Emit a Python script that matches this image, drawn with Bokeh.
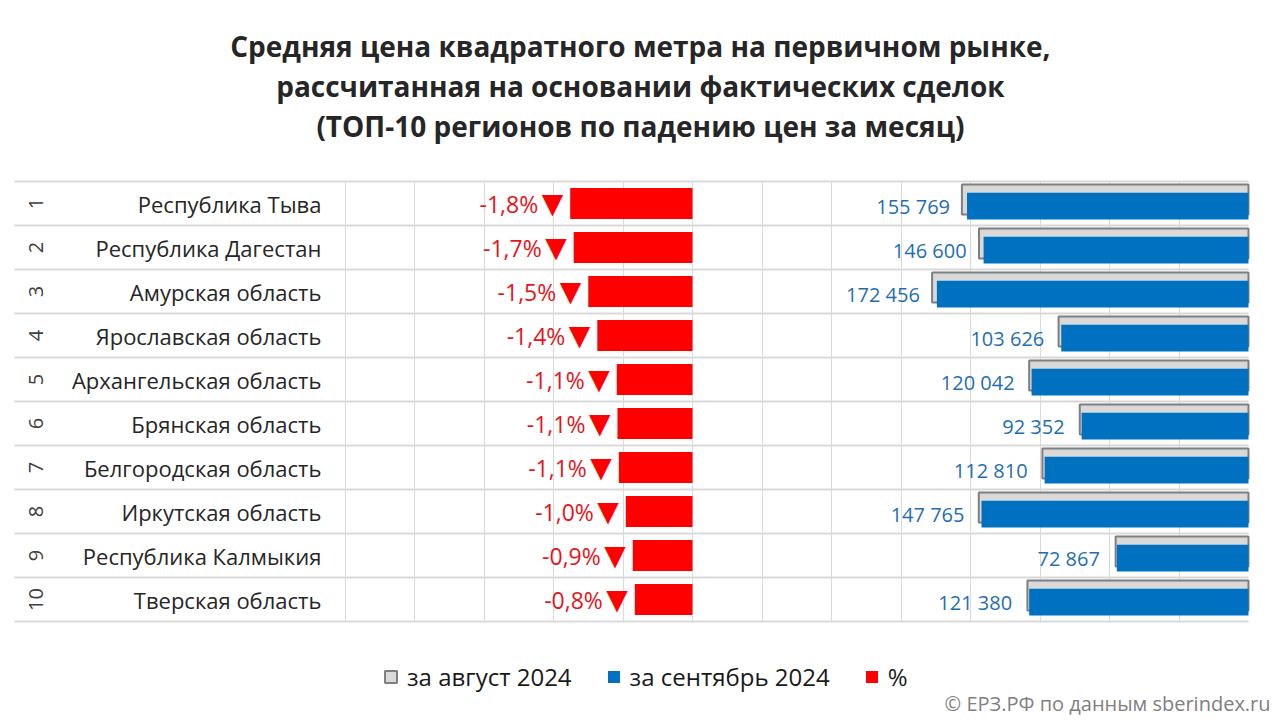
from bokeh.plotting import figure
from bokeh.models import (Range1d, FixedTicker, Legend, LegendItem,
                          ColumnDataSource)
from bokeh.transform import dodge
from bokeh.core.properties import value
from bokeh.embed import file_html
from bokeh.resources import INLINE
import math

# ---------------- data ----------------
ranks = [1, 2, 3, 4, 5, 6, 7, 8, 9, 10]
regions = [
    "Республика Тыва",
    "Республика Дагестан",
    "Амурская область",
    "Ярославская область",
    "Архангельская область",
    "Брянская область",
    "Белгородская область",
    "Иркутская область",
    "Республика Калмыкия",
    "Тверская область",
]
pct_change = [-1.76, -1.71, -1.50, -1.37, -1.09, -1.08, -1.06, -0.96, -0.86, -0.83]
price_aug = [158600, 149150, 175100, 105100, 121380, 93380, 114060, 149260, 73530, 122360]
price_sep = [155769, 146600, 172456, 103626, 120042, 92352, 112810, 147765, 72867, 121380]

title_lines = [
    "Средняя цена квадратного метра на первичном рынке,",
    "рассчитанная на основании фактических сделок",
    "(ТОП-10 регионов по падению цен за месяц)",
]
legend_labels = ["за август 2024", "за сентябрь 2024", "%"]
source_note = "© ЕРЗ.РФ по данным sberindex.ru"

# ---------------- layout / styling ----------------
FONT = "Open Sans"
RED = "#FF0000"
BLUE = "#0070C0"
GREY_FILL = "#D9D9D9"
GREY_LINE = "#7F7F7F"
GRID = "#D9D9D9"

# row units vertically (1 row = 44 px), percent units horizontally (1 % = 69.5 px)
TITLE_Y = [-2.59, -1.68, -0.77]
TITLE_X = -0.75
NOTE_X, NOTE_Y = 8.317, 12.36
RANK_X, NAME_X = -9.45, -5.34

pct_labels = [("%.1f" % v).replace(".", ",") + "%" for v in pct_change]
price_labels = ["{:,}".format(v).replace(",", " ") for v in price_sep]

src = ColumnDataSource(dict(
    rank=ranks,
    rank_str=[str(r) for r in ranks],
    region=regions,
    pct=pct_change,
    aug=price_aug,
    sep=price_sep,
    pct_label=pct_labels,
    arrow=["\u25BC"] * len(ranks),
    price_label=price_labels,
))

p = figure(frame_width=1272, frame_height=720,
           x_range=Range1d(-9.957, 8.345), y_range=Range1d(12.75, -3.614),
           output_backend="svg", toolbar_location=None,
           x_axis_location=None, y_axis_location=None,
           min_border_left=0, min_border_right=0,
           min_border_top=0, min_border_bottom=0)
p.title = None
p.extra_x_ranges = {"price": Range1d(690648, -13282)}
p.outline_line_color = None

# table cell borders
p.xgrid.ticker = FixedTicker(ticks=[-5, -4, -3, -2, -1, 0, 1, 2, 3, 4, 5, 6, 7])
p.xgrid.grid_line_color = GRID
p.xgrid.grid_line_width = 1
p.xgrid.cross_bounds = (0.5, 10.5)
p.ygrid.ticker = FixedTicker(ticks=[0.5 + i for i in range(11)])
p.ygrid.grid_line_color = GRID
p.ygrid.grid_line_width = 2
p.ygrid.cross_bounds = (-9.755, 8.0)

# bars
r_aug = p.hbar(y=dodge("rank", -0.09), left=0, right="aug", height=0.68,
               x_range_name="price", fill_color=GREY_FILL, line_color=GREY_LINE,
               line_width=2, source=src)
r_sep = p.hbar(y=dodge("rank", 0.06), left=0, right="sep", height=0.61,
               x_range_name="price", fill_color=BLUE, line_color=None, source=src)
r_pct = p.hbar(y="rank", left="pct", right=0, height=0.70,
               fill_color=RED, line_color=None, source=src)

# row texts
p.text(x=RANK_X, y="rank", text="rank_str", angle=math.pi / 2,
       text_align="center", text_baseline="middle",
       text_font=value(FONT), text_font_size="20px", text_color="#404040", source=src)
p.text(x=NAME_X, y="rank", text="region", text_align="right", text_baseline="middle",
       text_font=value(FONT), text_font_size="22px", text_color="#262626", source=src)
p.text(x="pct", y=dodge("rank", 0.02), text="pct_label", x_offset=-32,
       text_align="right", text_baseline="middle",
       text_font=value(FONT), text_font_size="23px", text_color="#E3161C", source=src)
p.text(x="pct", y="rank", text="arrow", x_offset=-7,
       text_align="right", text_baseline="middle",
       text_font=value("DejaVu Sans"), text_font_size="28px", text_color="#FF0000", source=src)
p.text(x="sep", y=dodge("rank", 0.07), text="price_label", x_offset=-17,
       x_range_name="price", text_align="right", text_baseline="middle",
       text_font=value(FONT), text_font_size="20px", text_color="#1F6EB4", source=src)

# title
p.text(x=[TITLE_X] * 3, y=TITLE_Y, text=title_lines, text_align="center",
       text_baseline="middle", text_font=value(FONT), text_font_size="28px",
       text_font_style="bold", text_color="#262626")

# source note
p.text(x=[NOTE_X], y=[NOTE_Y], text=[source_note], text_align="right",
       text_baseline="middle", text_font=value(FONT), text_font_size="20px",
       text_color="#7F7F7F")

# legend
legend = Legend(items=[LegendItem(label=legend_labels[0], renderers=[r_aug]),
                       LegendItem(label=legend_labels[1], renderers=[r_sep]),
                       LegendItem(label=legend_labels[2], renderers=[r_pct])],
                orientation="horizontal", location=(383, 27),
                border_line_color=None, background_fill_alpha=0,
                label_text_font=FONT, label_text_font_size="24px",
                label_text_color="#1A1A1A",
                glyph_width=15, glyph_height=15, label_standoff=9,
                spacing=34, margin=0, padding=0)
p.add_layout(legend)

open("out.html", "w").write(file_html(p, INLINE))
